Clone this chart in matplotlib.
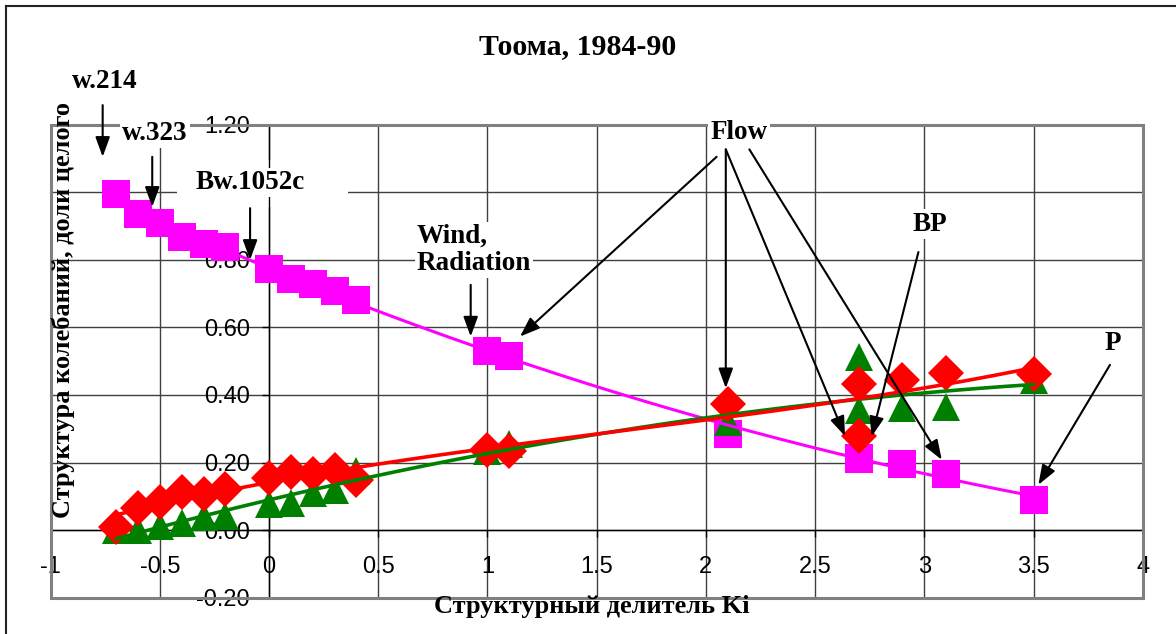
import numpy as np
import matplotlib
matplotlib.use('Agg')
import matplotlib.pyplot as plt
from matplotlib.patches import Rectangle
from matplotlib.lines import Line2D

plt.rcParams['axes.unicode_minus'] = False
plt.rcParams['font.family'] = ['Liberation Sans', 'DejaVu Sans']

# структурный делитель Ki
ki = [-0.7, -0.6, -0.5, -0.4, -0.3, -0.2, 0.0, 0.1, 0.2, 0.3, 0.4,
      1.0, 1.1, 2.1, 2.7, 2.7, 2.9, 3.1, 3.5]
# доли целого для трёх составляющих
share_sq = [0.995, 0.935, 0.91, 0.867, 0.847, 0.837, 0.773, 0.744, 0.729, 0.709, 0.68,
            0.53, 0.515, 0.285, 0.209, 0.213, 0.197, 0.166, 0.089]
share_dia = [0.01, 0.065, 0.082, 0.113, 0.107, 0.121, 0.155, 0.172, 0.165, 0.177, 0.148,
             0.236, 0.234, 0.372, 0.278, 0.432, 0.443, 0.465, 0.463]
share_tri = [0.0, 0.0, 0.012, 0.02, 0.038, 0.043, 0.077, 0.08, 0.11, 0.12, 0.175,
             0.234, 0.256, 0.32, 0.512, 0.355, 0.36, 0.364, 0.445]

xticks = [-1, -0.5, 0, 0.5, 1, 1.5, 2, 2.5, 3, 3.5, 4]
xtick_labels = ['-1', '-0.5', '0', '0.5', '1', '1.5', '2', '2.5', '3', '3.5', '4']
yticks = [-0.2, 0.0, 0.2, 0.4, 0.6, 0.8, 1.0, 1.2]
ytick_labels = ['-0.20', '0.00', '0.20', '0.40', '0.60', '0.80', '', '1.20']  # 1.00 закрыт подписью

# подписи (текст, x, y, выравнивание) и стрелки (откуда -> куда)
labels = [
    ('w.214', -0.751, 1.329, 'center'),
    ('w.323', -0.522, 1.174, 'center'),
    ('Bw.1052c', -0.087, 1.028, 'center'),
    ('Wind,\nRadiation', 0.676, 0.829, 'left'),
    ('Flow', 2.152, 1.176, 'center'),
    ('BP', 3.026, 0.906, 'center'),
    ('P', 3.864, 0.551, 'center'),
]
arrows = [
    (-0.762, 1.258, -0.762, 1.105),
    (-0.535, 1.105, -0.535, 0.957),
    (-0.087, 0.953, -0.087, 0.800),
    (0.923, 0.726, 0.923, 0.573),
    (2.049, 1.105, 1.149, 0.573),
    (2.091, 1.127, 2.091, 0.420),
    (2.091, 1.127, 2.637, 0.278),
    (2.199, 1.127, 3.080, 0.208),
    (2.973, 0.823, 2.759, 0.277),
    (3.850, 0.489, 3.522, 0.134),
]

fig = plt.figure(figsize=(11.76, 6.34), dpi=100)
ax = fig.add_axes([0.0431, 0.0573, 0.9286, 0.746])

xs = np.linspace(min(ki), max(ki), 300)
series = [
    (share_sq, 's', 19.5, '#FF00FF', 2.2, 3, 5, 3),
    (share_tri, '^', 20.5, '#008000', 2.6, 3.5, 6, 2),
    (share_dia, 'D', 18, '#FF0000', 2.6, 4, 7, 3),
]
for vals, mk, ms, col, lw, zm, zl, deg in series:
    ax.plot(ki, vals, linestyle='none', marker=mk, markersize=ms, color=col,
            markeredgewidth=0, zorder=zm, clip_on=False)
    coef = np.polyfit(ki, vals, deg)
    ax.plot(xs, np.polyval(coef, xs), color=col, lw=lw, zorder=zl)

ax.set_xlim(-1, 4)
ax.set_ylim(-0.2, 1.2)
ax.set_xticks(xticks)
ax.set_xticklabels(xtick_labels)
ax.set_yticks(yticks)
ax.set_yticklabels(ytick_labels)
ax.tick_params(axis='y', direction='out', length=5, width=1, pad=9, labelsize=17)
ax.tick_params(axis='x', direction='out', length=5, width=1, pad=14, labelsize=17)

ax.grid(True, color='#404040', lw=1.0)
ax.set_axisbelow(True)
ax.spines['left'].set_position(('data', 0))
ax.spines['bottom'].set_position(('data', 0))
ax.spines['right'].set_visible(False)
ax.spines['top'].set_visible(False)
for s in ('left', 'bottom'):
    ax.spines[s].set_color('black')
    ax.spines[s].set_linewidth(1.0)
ax.add_patch(Rectangle((0, 0), 1, 1, transform=ax.transAxes, fill=False,
                       edgecolor='#808080', lw=2.2, clip_on=False, zorder=8))

serif = ['Liberation Serif', 'DejaVu Serif']
ax.add_patch(Rectangle((-0.422, 0.957), 0.783, 0.139, facecolor='white',
                       edgecolor='none', zorder=2.5, clip_on=False))
for txt, x, y, ha in labels:
    ax.text(x, y, txt, ha=ha, va='center', fontsize=19.5, fontweight='bold',
            family=serif, linespacing=1.1, zorder=9,
            bbox=dict(facecolor='white', edgecolor='none', pad=1.5))
for x0, y0, x1, y1 in arrows:
    ax.annotate('', xy=(x1, y1), xytext=(x0, y0), annotation_clip=False, zorder=10,
                arrowprops=dict(arrowstyle='-|>,head_length=0.6,head_width=0.22',
                                mutation_scale=20, color='black', lw=1.5,
                                shrinkA=0, shrinkB=0))

fig.text(0.4915, 0.927, 'Тоома, 1984-90', ha='center', va='center',
         fontsize=21.5, fontweight='bold', family=serif)
fig.text(592 / 1176, 1 - 607 / 634, 'Структурный делитель Ki', ha='center', va='center',
         fontsize=19, fontweight='bold', family=serif)
fig.text(63 / 1176, 1 - 310 / 634, 'Структура колебаний, доли целого', ha='center',
         va='center', rotation=90, fontsize=19, fontweight='bold', family=serif)

# рамка рисунка (видна только слева и сверху)
fig.add_artist(Line2D([6 / 1176, 6 / 1176], [0, 1 - 6 / 634], color='#222222', lw=1.5))
fig.add_artist(Line2D([6 / 1176, 1], [1 - 6 / 634, 1 - 6 / 634], color='#222222', lw=1.5))

fig.savefig('out.png', dpi=100)
